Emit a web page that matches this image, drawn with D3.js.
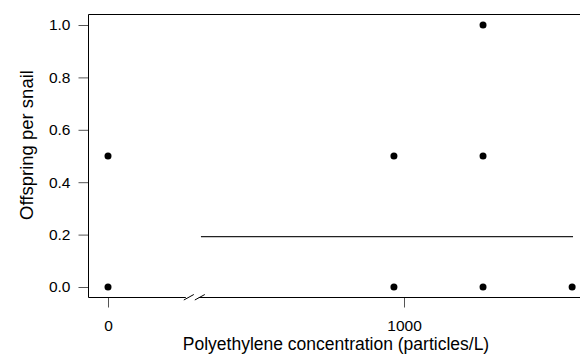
<!DOCTYPE html>
<html>
<head>
<meta charset="utf-8">
<script src="https://cdn.jsdelivr.net/npm/d3@7"></script>
<style>
  body { margin: 0; background: #fff; }
  text { font-family: "Liberation Sans", Arial, sans-serif; }
</style>
</head>
<body>
<svg id="chart"></svg>
<script>
// data
const concentration = [0, 0, 966, 966, 1267, 1267, 1267, 1568];
const offspring = [0.0, 0.5, 0.0, 0.5, 0.0, 0.5, 1.0, 0.0];
const fitX = [314, 1571];
const fitY = [0.192, 0.192];
const xTicks = [0, 1000];
const yTicks = [0, 0.2, 0.4, 0.6, 0.8, 1.0];
const xBreakAt = 300;

const width = 580, height = 354;
const box = { left: 89, top: 14, bottom: 297 };

const svg = d3.select("#chart")
  .attr("width", width)
  .attr("height", height)
  .style("background-color", "#fff");

// scales
const x = d3.scaleLinear().domain([0, 1000]).range([108, 404]);
const y = d3.scaleLinear().domain([0, 1]).range([287, 25]);

// axes
const yAxis = d3.axisLeft(y)
  .tickValues(yTicks)
  .tickFormat(d3.format(".1f"))
  .tickSize(10)
  .tickPadding(8);

const xAxis = d3.axisBottom(x)
  .tickValues(xTicks)
  .tickFormat(d3.format("d"))
  .tickSize(10)
  .tickPadding(12);

svg.append("g")
  .attr("class", "y axis")
  .attr("transform", `translate(${box.left - 0.5},0)`)
  .call(yAxis);

svg.append("g")
  .attr("class", "x axis")
  .attr("transform", `translate(0,${box.bottom + 0.5})`)
  .call(xAxis);

svg.selectAll("g.axis").selectAll("path.domain").remove();
svg.selectAll("g.axis").selectAll("line").attr("stroke", "#555");
svg.selectAll("g.axis").selectAll("text")
  .style("font-size", "15.5px")
  .style("font-family", "Liberation Sans, Arial, sans-serif")
  .attr("fill", "#000");

// box (right side runs off the picture)
svg.append("path")
  .attr("d", `M${width},${box.top + 0.5}H${box.left - 0.5}V${box.bottom + 0.5}H${width}`)
  .attr("fill", "none")
  .attr("stroke", "#000")
  .attr("stroke-width", 1);

// axis break symbol
const bx = x(xBreakAt) - 7;
svg.append("rect")
  .attr("x", bx - 4).attr("y", box.bottom - 2)
  .attr("width", 13).attr("height", 5)
  .attr("fill", "#fff");
[bx - 6, bx + 5].forEach(x0 => {
  svg.append("line")
    .attr("x1", x0).attr("y1", box.bottom + 3)
    .attr("x2", x0 + 10).attr("y2", box.bottom - 2.5)
    .attr("stroke", "#000")
    .attr("stroke-width", 1);
});

// fitted line
svg.append("line")
  .attr("x1", x(fitX[0])).attr("y1", y(fitY[0]))
  .attr("x2", x(fitX[1])).attr("y2", y(fitY[1]))
  .attr("stroke", "#222")
  .attr("stroke-width", 1.2);

// points
svg.selectAll(".pt")
  .data(concentration.map((c, i) => ({ c, v: offspring[i] })))
  .enter()
  .append("circle")
  .attr("class", "pt")
  .attr("cx", d => x(d.c))
  .attr("cy", d => y(d.v))
  .attr("r", 3.5)
  .attr("fill", "#000");

// axis titles
svg.append("text")
  .attr("x", 336)
  .attr("y", 350)
  .attr("text-anchor", "middle")
  .style("font-size", "17.5px")
  .text("Polyethylene concentration (particles/L)");

svg.append("text")
  .attr("transform", `translate(33,145) rotate(-90)`)
  .attr("text-anchor", "middle")
  .style("font-size", "18.5px")
  .text("Offspring per snail");
</script>
</body>
</html>
